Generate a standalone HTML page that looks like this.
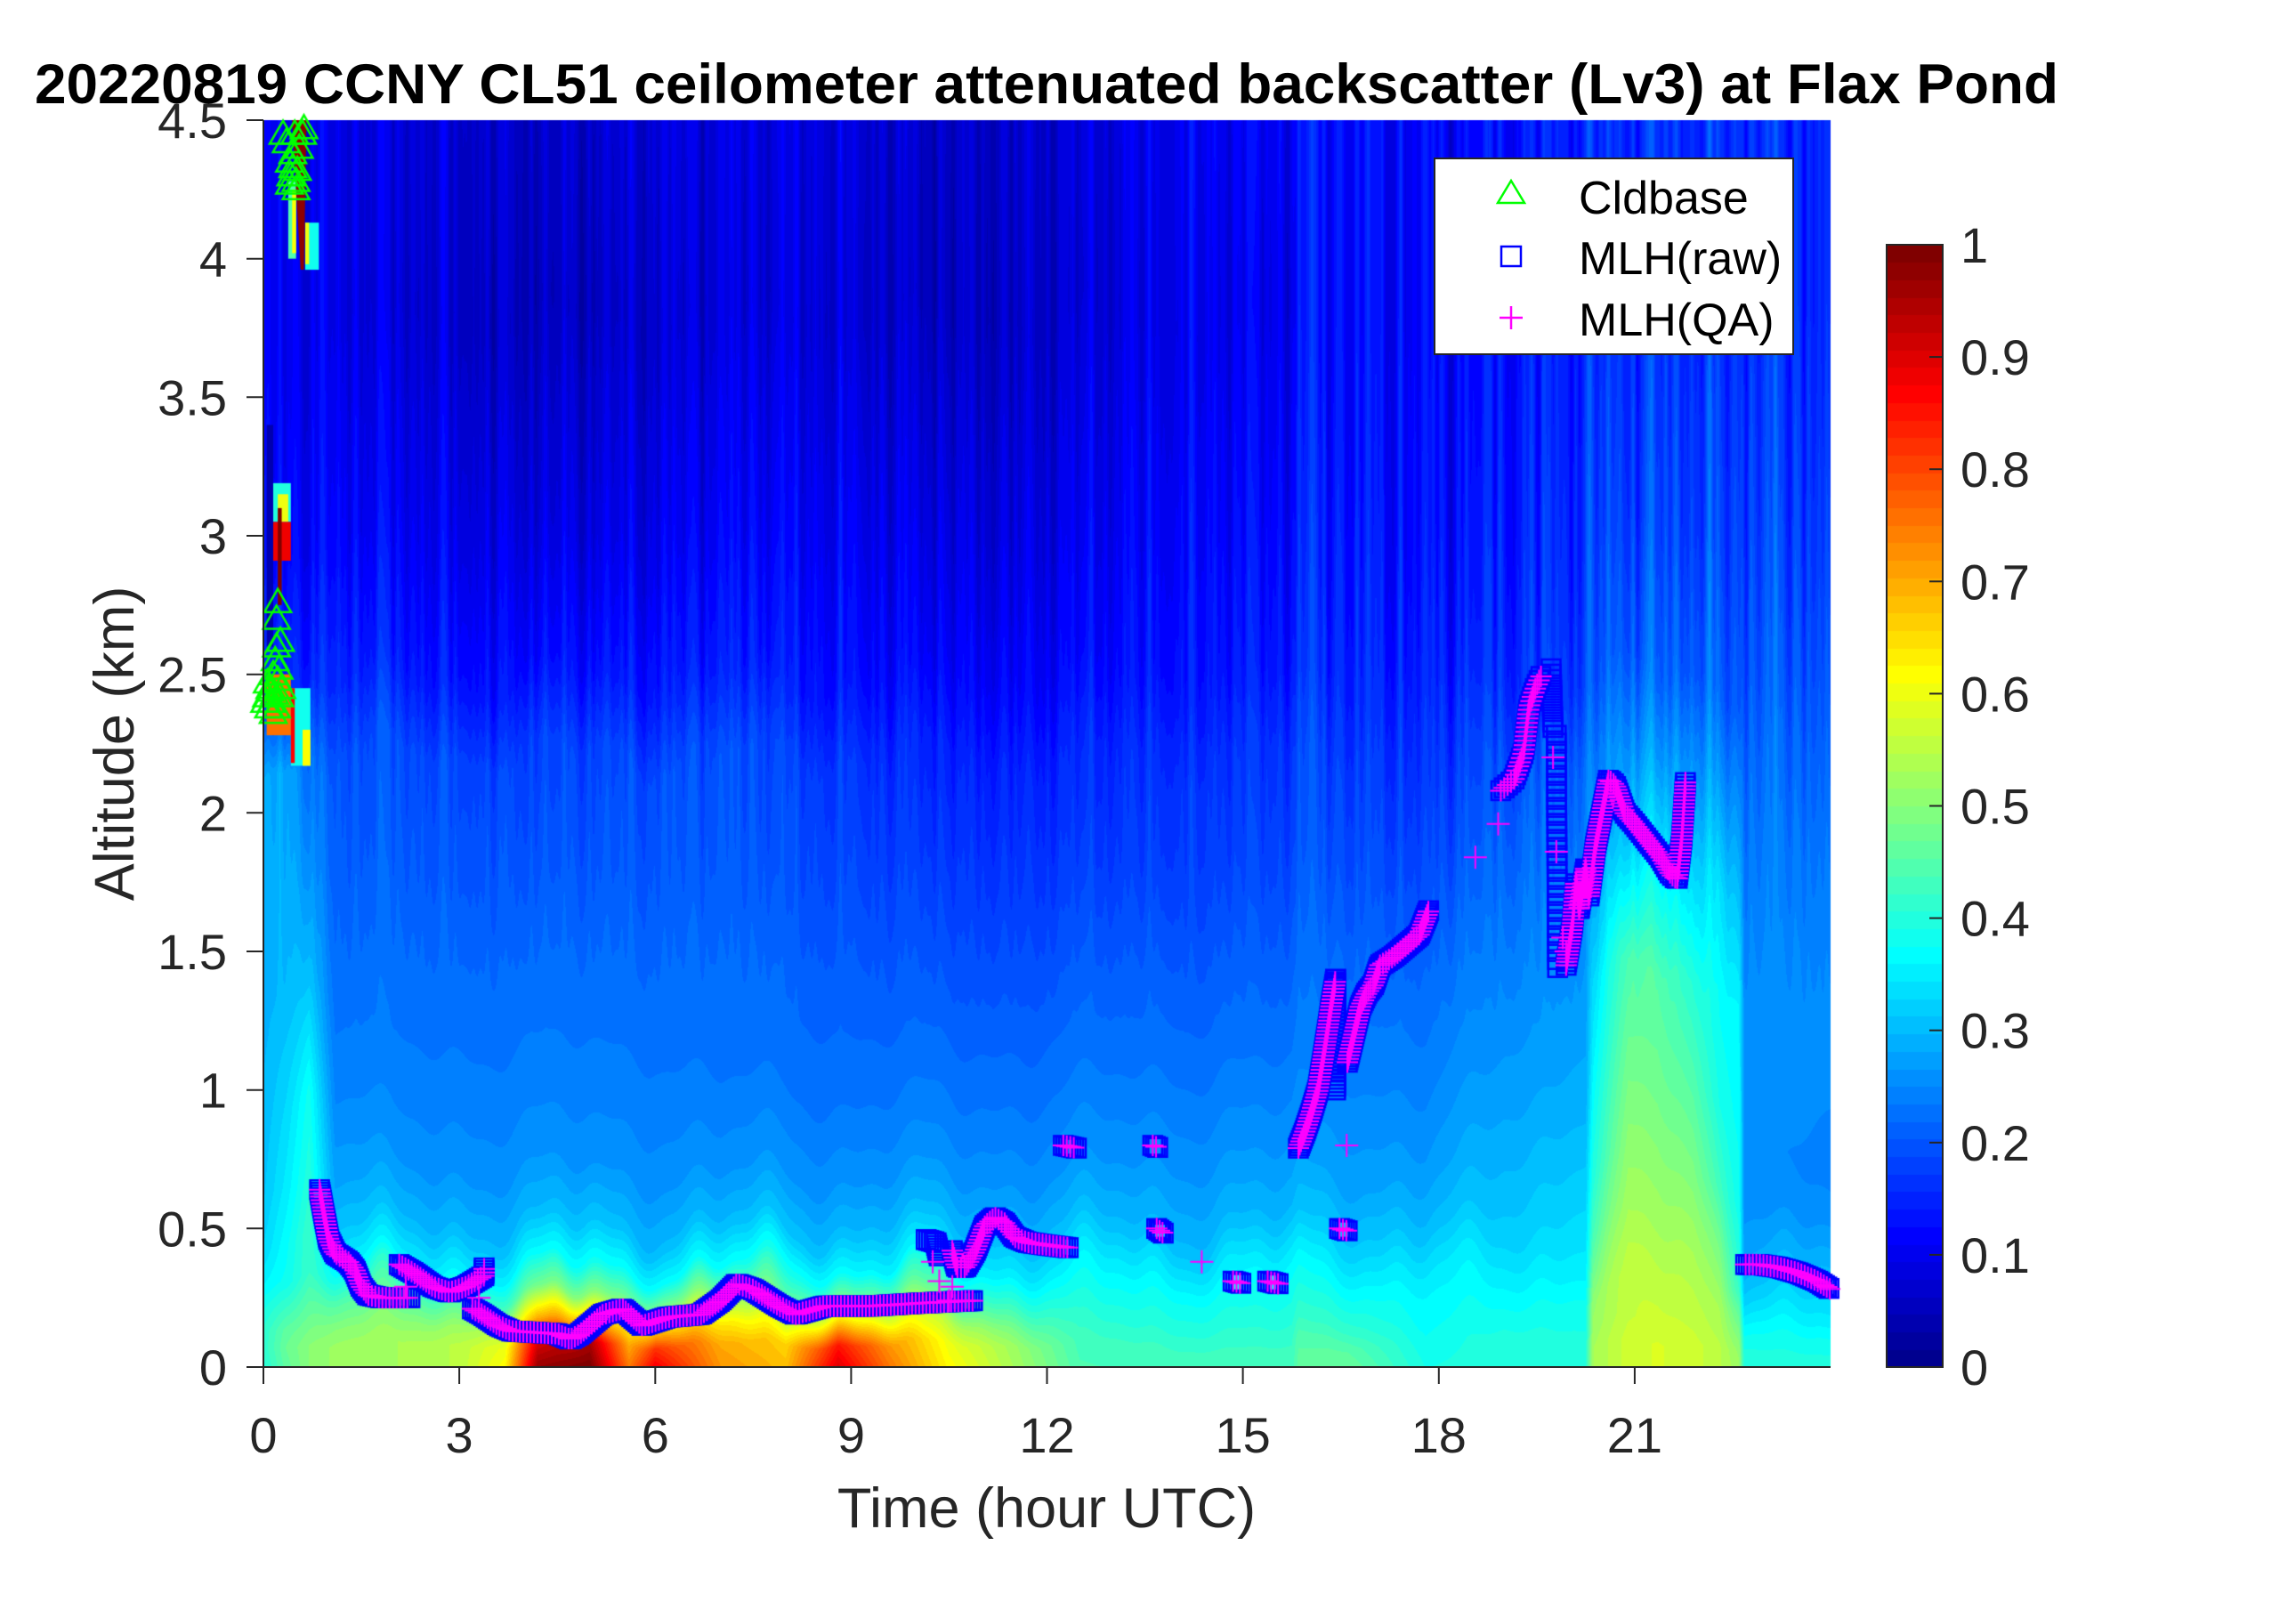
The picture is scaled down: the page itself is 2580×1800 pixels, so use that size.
<!DOCTYPE html>
<html><head><meta charset="utf-8">
<style>
html,body{margin:0;padding:0;background:#fff;}
#wrap{position:relative;width:2580px;height:1800px;overflow:hidden;background:#fff;}
canvas,svg{position:absolute;left:0;top:0;}
</style></head><body>
<div id="wrap">
<canvas id="c" width="2580" height="1800"></canvas>
<svg width="2580" height="1800" viewBox="0 0 2580 1800" xmlns="http://www.w3.org/2000/svg" font-family="'Liberation Sans', Arial, sans-serif">
  <text x="1176" y="116" font-size="63" font-weight="bold" text-anchor="middle" textLength="2274" lengthAdjust="spacingAndGlyphs" fill="#000">20220819 CCNY CL51 ceilometer attenuated backscatter (Lv3) at Flax Pond</text>
  <g stroke="#262626" stroke-width="2" fill="none">
    <line x1="296" y1="135" x2="296" y2="1537"/>
    <line x1="295" y1="1536" x2="2057" y2="1536"/>
    <line x1="277" y1="1536" x2="296" y2="1536"/>
    <line x1="277" y1="1380.3" x2="296" y2="1380.3"/>
    <line x1="277" y1="1224.7" x2="296" y2="1224.7"/>
    <line x1="277" y1="1069" x2="296" y2="1069"/>
    <line x1="277" y1="913.3" x2="296" y2="913.3"/>
    <line x1="277" y1="757.7" x2="296" y2="757.7"/>
    <line x1="277" y1="602" x2="296" y2="602"/>
    <line x1="277" y1="446.3" x2="296" y2="446.3"/>
    <line x1="277" y1="290.7" x2="296" y2="290.7"/>
    <line x1="277" y1="135" x2="296" y2="135"/>
    <line x1="296" y1="1536" x2="296" y2="1555"/>
    <line x1="516.1" y1="1536" x2="516.1" y2="1555"/>
    <line x1="736.3" y1="1536" x2="736.3" y2="1555"/>
    <line x1="956.4" y1="1536" x2="956.4" y2="1555"/>
    <line x1="1176.5" y1="1536" x2="1176.5" y2="1555"/>
    <line x1="1396.6" y1="1536" x2="1396.6" y2="1555"/>
    <line x1="1616.8" y1="1536" x2="1616.8" y2="1555"/>
    <line x1="1836.9" y1="1536" x2="1836.9" y2="1555"/>
  </g>
  <g font-size="56" fill="#262626" text-anchor="end">
    <text x="255" y="1556">0</text>
    <text x="255" y="1400.3">0.5</text>
    <text x="255" y="1244.7">1</text>
    <text x="255" y="1089">1.5</text>
    <text x="255" y="933.3">2</text>
    <text x="255" y="777.7">2.5</text>
    <text x="255" y="622">3</text>
    <text x="255" y="466.3">3.5</text>
    <text x="255" y="310.7">4</text>
    <text x="255" y="155">4.5</text>
  </g>
  <g font-size="56" fill="#262626" text-anchor="middle">
    <text x="296" y="1632">0</text>
    <text x="516.1" y="1632">3</text>
    <text x="736.3" y="1632">6</text>
    <text x="956.4" y="1632">9</text>
    <text x="1176.5" y="1632">12</text>
    <text x="1396.6" y="1632">15</text>
    <text x="1616.8" y="1632">18</text>
    <text x="1836.9" y="1632">21</text>
  </g>
  <text x="1176" y="1716" font-size="63" fill="#262626" text-anchor="middle">Time (hour UTC)</text>
  <text transform="translate(150,835.5) rotate(-90)" font-size="63" fill="#262626" text-anchor="middle">Altitude (km)</text>

  <!-- legend -->
  <rect x="1612" y="178" width="403" height="220" fill="#fff" stroke="#262626" stroke-width="2"/>
  <polygon points="1698,203 1683,228 1713,228" fill="none" stroke="#00ff00" stroke-width="2.5"/>
  <rect x="1687" y="277" width="22" height="22" fill="none" stroke="#0000ff" stroke-width="2.5"/>
  <g stroke="#ff00ff" stroke-width="2.5"><line x1="1685" y1="357" x2="1711" y2="357"/><line x1="1698" y1="344" x2="1698" y2="370"/></g>
  <g font-size="52" fill="#000">
    <text x="1774" y="240">Cldbase</text>
    <text x="1774" y="308">MLH(raw)</text>
    <text x="1774" y="377">MLH(QA)</text>
  </g>

  <!-- colorbar frame and ticks -->
  <rect x="2120" y="275" width="63" height="1261" fill="none" stroke="#262626" stroke-width="2"/>
  <g stroke="#262626" stroke-width="2">
    <line x1="2168" y1="1409.9" x2="2183" y2="1409.9"/>
    <line x1="2168" y1="1283.8" x2="2183" y2="1283.8"/>
    <line x1="2168" y1="1157.7" x2="2183" y2="1157.7"/>
    <line x1="2168" y1="1031.6" x2="2183" y2="1031.6"/>
    <line x1="2168" y1="905.5" x2="2183" y2="905.5"/>
    <line x1="2168" y1="779.4" x2="2183" y2="779.4"/>
    <line x1="2168" y1="653.3" x2="2183" y2="653.3"/>
    <line x1="2168" y1="527.2" x2="2183" y2="527.2"/>
    <line x1="2168" y1="401.1" x2="2183" y2="401.1"/>
  </g>
  <g font-size="56" fill="#262626">
    <text x="2203" y="1556">0</text>
    <text x="2203" y="1429.9">0.1</text>
    <text x="2203" y="1303.8">0.2</text>
    <text x="2203" y="1177.7">0.3</text>
    <text x="2203" y="1051.6">0.4</text>
    <text x="2203" y="925.5">0.5</text>
    <text x="2203" y="799.4">0.6</text>
    <text x="2203" y="673.3">0.7</text>
    <text x="2203" y="547.2">0.8</text>
    <text x="2203" y="421.1">0.9</text>
    <text x="2203" y="295">1</text>
  </g>
</svg>
</div>
<script>
(function(){
const cv=document.getElementById('c'),ctx=cv.getContext('2d');
ctx.fillStyle='#fff';ctx.fillRect(0,0,2580,1800);
const AX={x:296,y:135,w:1761,h:1401};
const tx=t=>AX.x+t/24*AX.w, zy=z=>AX.y+AX.h-z/4.5*AX.h;
const cl=a=>Math.max(0,Math.min(1,a));
const JET=[];
for(let i=1;i<=64;i++){const x=i/64;JET.push([cl(1.5-Math.abs(4*x-3)),cl(1.5-Math.abs(4*x-2)),cl(1.5-Math.abs(4*x-1))].map(a=>Math.round(a*255)));}
const idx=v=>{let i=Math.floor(v*64);if(i<0)i=0;if(i>63)i=63;return i;};
const jcol=v=>{const c=JET[idx(v)];return 'rgb('+c[0]+','+c[1]+','+c[2]+')';};
const ZS=[0,0.08,0.15,0.25,0.35,0.5,0.7,1.0,1.4,1.8,2.2,2.5,3.0,3.8,4.5];
const N=[
[0.0,[0.40,0.41,0.41,0.39,0.36,0.33,0.31,0.30,0.29,0.28,0.27,0.15,0.11,0.09,0.09]],
[0.35,[0.46,0.47,0.46,0.42,0.38,0.37,0.35,0.33,0.30,0.285,0.275,0.15,0.11,0.09,0.09]],
[0.7,[0.50,0.50,0.48,0.45,0.42,0.42,0.40,0.38,0.31,0.26,0.22,0.14,0.10,0.085,0.085]],
[1.1,[0.52,0.52,0.50,0.45,0.38,0.32,0.28,0.25,0.225,0.205,0.19,0.145,0.105,0.08,0.08]],
[2.0,[0.53,0.53,0.50,0.44,0.36,0.30,0.265,0.24,0.225,0.205,0.19,0.14,0.105,0.075,0.08]],
[3.0,[0.55,0.55,0.52,0.44,0.36,0.30,0.265,0.24,0.225,0.205,0.19,0.14,0.105,0.075,0.08]],
[3.7,[0.62,0.60,0.55,0.43,0.36,0.30,0.265,0.24,0.225,0.205,0.19,0.14,0.105,0.07,0.08]],
[4.2,[0.97,0.90,0.70,0.48,0.37,0.30,0.265,0.24,0.225,0.205,0.19,0.14,0.10,0.07,0.08]],
[5.0,[1.00,0.95,0.72,0.50,0.38,0.31,0.265,0.24,0.225,0.205,0.19,0.14,0.10,0.07,0.08]],
[5.6,[0.75,0.70,0.62,0.47,0.37,0.30,0.265,0.24,0.225,0.205,0.19,0.14,0.10,0.07,0.08]],
[6.0,[0.88,0.82,0.68,0.49,0.37,0.30,0.265,0.24,0.225,0.205,0.19,0.14,0.10,0.07,0.08]],
[7.0,[0.72,0.70,0.64,0.50,0.37,0.30,0.26,0.235,0.22,0.20,0.185,0.135,0.10,0.07,0.075]],
[8.0,[0.68,0.66,0.58,0.46,0.39,0.31,0.265,0.235,0.215,0.19,0.175,0.13,0.10,0.07,0.075]],
[8.8,[0.90,0.85,0.70,0.49,0.37,0.30,0.26,0.23,0.21,0.185,0.165,0.125,0.10,0.07,0.075]],
[9.6,[0.75,0.72,0.62,0.47,0.36,0.30,0.26,0.23,0.205,0.18,0.16,0.125,0.10,0.07,0.075]],
[10.5,[0.62,0.60,0.55,0.44,0.36,0.30,0.26,0.23,0.20,0.175,0.155,0.125,0.10,0.07,0.075]],
[11.5,[0.53,0.52,0.48,0.41,0.35,0.30,0.26,0.23,0.20,0.175,0.155,0.125,0.10,0.075,0.08]],
[12.5,[0.44,0.43,0.41,0.38,0.35,0.30,0.265,0.235,0.205,0.175,0.155,0.125,0.105,0.08,0.085]],
[14.0,[0.43,0.42,0.40,0.38,0.35,0.30,0.27,0.24,0.21,0.175,0.155,0.125,0.105,0.085,0.09]],
[15.75,[0.43,0.42,0.40,0.38,0.35,0.30,0.27,0.24,0.21,0.18,0.16,0.13,0.11,0.09,0.10]],
[15.85,[0.46,0.45,0.42,0.39,0.36,0.31,0.28,0.25,0.225,0.20,0.185,0.16,0.145,0.13,0.13]],
[16.6,[0.47,0.45,0.42,0.39,0.36,0.32,0.28,0.255,0.23,0.20,0.18,0.16,0.145,0.13,0.13]],
[17.8,[0.39,0.38,0.37,0.36,0.34,0.30,0.27,0.245,0.22,0.19,0.17,0.155,0.14,0.13,0.13]],
[19.0,[0.40,0.40,0.39,0.37,0.35,0.32,0.30,0.275,0.25,0.225,0.20,0.17,0.155,0.14,0.14]],
[20.25,[0.40,0.40,0.39,0.38,0.36,0.34,0.32,0.29,0.27,0.245,0.22,0.18,0.16,0.15,0.15]],
[20.36,[0.53,0.53,0.52,0.51,0.48,0.44,0.40,0.37,0.33,0.27,0.23,0.19,0.17,0.15,0.15]],
[20.9,[0.57,0.57,0.56,0.56,0.55,0.53,0.51,0.48,0.44,0.32,0.25,0.20,0.17,0.15,0.15]],
[21.35,[0.58,0.58,0.57,0.56,0.55,0.53,0.51,0.48,0.45,0.36,0.26,0.20,0.17,0.15,0.15]],
[21.9,[0.57,0.57,0.56,0.55,0.54,0.52,0.49,0.45,0.40,0.32,0.25,0.20,0.17,0.15,0.15]],
[22.3,[0.55,0.55,0.54,0.53,0.51,0.48,0.43,0.39,0.37,0.33,0.25,0.20,0.17,0.15,0.15]],
[22.6,[0.52,0.51,0.49,0.46,0.42,0.40,0.38,0.37,0.36,0.30,0.24,0.19,0.17,0.15,0.15]],
[22.68,[0.40,0.39,0.37,0.33,0.30,0.27,0.26,0.265,0.255,0.24,0.22,0.20,0.18,0.16,0.16]],
[24.0,[0.40,0.38,0.35,0.32,0.29,0.26,0.24,0.255,0.25,0.235,0.215,0.20,0.18,0.16,0.16]]
];
const SF=[[7.1,0.8,1],[13.3,2.1,1],[19.7,4.0,1],[27.9,0.3,1],[37.3,5.2,0.8],[49.1,1.7,0.6],[63.7,3.3,0.4]];
function streak(t){let s=0;for(const [f,p,a] of SF)s+=a*Math.sin(f*t+p);return s/5.8;}
function ripple(t){return 0.06*Math.sin(2.3*t+0.4)+0.04*Math.sin(5.3*t+1.3)+0.015*Math.sin(11.7*t+2.2);}
const img=ctx.createImageData(AX.w,AX.h),d=img.data;
for(let px=0;px<AX.w;px++){
  const t=(px+0.5)/AX.w*24;
  let k=0;while(k<N.length-2&&N[k+1][0]<t)k++;
  const t0=N[k][0],p0=N[k][1],t1=N[k+1][0],p1=N[k+1][1];
  const f=cl((t-t0)/(t1-t0));
  const P=p0.map((a,i)=>a+(p1[i]-a)*f);
  const st=streak(t)*(t>15.8?0.08:0.06)+0.015*Math.sin(0.9*t+1.0);
  const rp=ripple(t);
  for(let py=0;py<AX.h;py++){
    const z=(AX.h-py-0.5)/AX.h*4.5;
    const ze=z+rp*Math.min(1,z/0.4);
    let j=0;while(j<ZS.length-2&&ZS[j+1]<ze)j++;
    const g=cl((ze-ZS[j])/(ZS[j+1]-ZS[j]));
    let v=P[j]+(P[j+1]-P[j])*g;
    const w=z<1.2?0:(z>2.8?1:(z-1.2)/1.6);
    v+=st*w;
    const c=JET[idx(v)];
    const o=(py*AX.w+px)*4;d[o]=c[0];d[o+1]=c[1];d[o+2]=c[2];d[o+3]=255;
  }
}
ctx.putImageData(img,AX.x,AX.y);
// cloud patches
function patch(t0,t1,z0,z1,v){ctx.fillStyle=(typeof v==='string')?v:jcol(v);ctx.fillRect(tx(t0),zy(z1),tx(t1)-tx(t0),zy(z0)-zy(z1));}
// top cloud
patch(0.38,0.50,4.0,4.28,0.45);
patch(0.44,0.50,4.02,4.25,0.62);
patch(0.64,0.85,3.96,4.13,0.38);
patch(0.64,0.70,3.98,4.13,0.60);
ctx.fillStyle=jcol(0.97);
ctx.beginPath();ctx.moveTo(tx(0.44),zy(4.5));ctx.lineTo(tx(0.66),zy(4.5));ctx.lineTo(tx(0.62),zy(3.96));ctx.lineTo(tx(0.57),zy(3.96));ctx.closePath();ctx.fill();
// lower cloud at ~3 km
patch(0.15,0.42,3.05,3.19,0.40);
patch(0.22,0.38,3.05,3.15,0.60);
patch(0.15,0.42,2.91,3.05,0.88);
patch(0.22,0.28,2.75,3.10,0.99);
patch(0.05,0.15,2.6,3.4,0.04);
// cloud at ~2.2-2.5 km
patch(0.42,0.72,2.17,2.45,0.38);
patch(0.60,0.72,2.17,2.30,0.62);
patch(0.42,0.48,2.18,2.45,0.86);
patch(0.05,0.42,2.28,2.50,0.75);
// triangles
function tri(t,z){const x=tx(t),y=zy(z);ctx.beginPath();ctx.moveTo(x,y-15);ctx.lineTo(x-15,y+11);ctx.lineTo(x+15,y+11);ctx.closePath();ctx.stroke();}
ctx.strokeStyle='#00ff00';ctx.lineWidth=2.5;
[[0.02,2.40],[0.05,2.42],[0.08,2.38],[0.1,2.45],[0.12,2.40],[0.15,2.5],[0.18,2.55],[0.2,2.6],[0.22,2.48],[0.25,2.42],[0.15,2.36],[0.2,2.38],[0.24,2.52],[0.26,2.62],[0.2,2.70],[0.22,2.76],[0.1,2.44],[0.28,2.45],[0.06,2.47],[0.17,2.43]].forEach(p=>tri(p[0],p[1]));
[[0.3,4.45],[0.35,4.42],[0.4,4.35],[0.42,4.3],[0.45,4.33],[0.5,4.28],[0.55,4.4],[0.6,4.45],[0.62,4.47],[0.45,4.38],[0.5,4.25],[0.48,4.45],[0.52,4.32],[0.4,4.27]].forEach(p=>tri(p[0],p[1]));
// MLH trails
function sample(pts,step){
  const P=pts.map(p=>[tx(p[0]),zy(p[1])]);const S=[P[0]];let carry=0;
  for(let i=1;i<P.length;i++){const x0=P[i-1][0],y0=P[i-1][1],x1=P[i][0],y1=P[i][1];const L=Math.hypot(x1-x0,y1-y0);
    let dd=step-carry;while(dd<=L){S.push([x0+(x1-x0)*dd/L,y0+(y1-y0)*dd/L]);dd+=step;}carry=L-(dd-step);}
  return S;
}
const segs=[
 {p:[[0.86,0.64],[0.92,0.56],[1.0,0.46],[1.1,0.41],[1.3,0.38],[1.4,0.35],[1.5,0.29],[1.6,0.26],[1.8,0.25],[2.25,0.25]],s:3,r:1,q:1},
 {p:[[2.08,0.37],[2.3,0.34],[2.6,0.29],[2.85,0.27],[3.1,0.29],[3.38,0.33],[3.38,0.36]],s:3,r:1,q:1},
 {p:[[3.2,0.21],[3.35,0.19],[3.6,0.15],[3.8,0.13],[4.5,0.12],[4.7,0.10],[4.85,0.12],[5.2,0.19],[5.5,0.21],[5.8,0.15],[6.2,0.18],[6.7,0.19],[7.0,0.24],[7.25,0.30],[7.5,0.28],[7.9,0.22],[8.15,0.19],[8.6,0.22],[9.3,0.22],[10.0,0.23],[10.9,0.24]],s:3,r:1,q:1},
 {p:[[10.15,0.46],[10.3,0.45],[10.35,0.40]],s:3,r:1,q:0},
 {p:[[10.55,0.42],[10.62,0.36],[10.75,0.36],[10.9,0.42],[11.05,0.51],[11.2,0.54],[11.35,0.52],[11.5,0.47],[11.7,0.45],[12.0,0.44],[12.35,0.43]],s:3,r:1,q:1},
 {p:[[12.25,0.80],[12.45,0.79]],s:3,r:1,q:1},
 {p:[[13.62,0.80],[13.72,0.79]],s:3,r:1,q:1},
 {p:[[13.68,0.50],[13.8,0.48]],s:3,r:1,q:1},
 {p:[[14.85,0.31],[15.0,0.30]],s:3,r:1,q:1},
 {p:[[15.38,0.31],[15.55,0.30]],s:3,r:1,q:1},
 {p:[[16.48,0.50],[16.62,0.49]],s:3,r:1,q:1},
 {p:[[15.85,0.79],[15.95,0.85],[16.05,0.92],[16.15,1.0],[16.22,1.1],[16.3,1.22],[16.35,1.3],[16.42,1.40]],s:3,r:1,q:1},
 {p:[[16.42,1.0],[16.42,1.4]],s:4,r:1,q:0},
 {p:[[16.6,1.1],[16.7,1.2],[16.8,1.3],[16.9,1.35],[17.0,1.38],[17.1,1.45],[17.3,1.48],[17.5,1.52],[17.7,1.56],[17.85,1.65]],s:3,r:1,q:1},
 {p:[[18.95,2.08],[19.15,2.12],[19.3,2.22],[19.38,2.38],[19.48,2.45],[19.58,2.5]],s:5,r:1,q:1},
 {p:[[19.72,2.52],[19.75,2.30]],s:6,r:1,q:0},
 {p:[[19.8,2.28],[19.82,1.42]],s:9,r:1,q:0},
 {p:[[19.95,1.45],[20.05,1.6],[20.1,1.75],[20.15,1.65],[20.25,1.8],[20.3,1.7],[20.4,1.88],[20.5,2.0],[20.6,2.12],[20.7,2.1],[20.85,2.0],[21.0,1.96],[21.2,1.9],[21.4,1.84],[21.55,1.78],[21.65,1.76],[21.72,1.9],[21.78,2.12]],s:4,r:1,q:1},
 {p:[[22.7,0.37],[22.9,0.37],[23.2,0.36],[23.5,0.34],[23.8,0.31],[24.0,0.28]],s:3,r:1,q:1}
];
const isoPlus=[[2.18,0.29],[10.25,0.38],[10.35,0.31],[10.55,0.29],[10.5,0.24],[14.37,0.38],[16.59,0.80],[18.56,1.84],[18.91,1.96],[19.75,2.2],[19.8,1.86],[19.9,1.55],[19.95,1.5],[3.3,0.25]];
ctx.strokeStyle='#0000ff';ctx.lineWidth=2.5;
segs.forEach(sg=>{if(!sg.r)return;sample(sg.p,sg.s).forEach(([x,y])=>ctx.strokeRect(x-10.5,y-10.5,21,21));});
ctx.strokeStyle='#ff00ff';ctx.lineWidth=2;
function plus(x,y,h){ctx.beginPath();ctx.moveTo(x-h,y);ctx.lineTo(x+h,y);ctx.moveTo(x,y-h);ctx.lineTo(x,y+h);ctx.stroke();}
segs.forEach(sg=>{if(!sg.q)return;sample(sg.p,Math.max(4,sg.s)).forEach(([x,y])=>plus(x,y,12));});
isoPlus.forEach(p=>plus(tx(p[0]),zy(p[1]),13));
// colorbar
const cx0=2120,cw=63,cy1=1536,ch=1261;
for(let i=0;i<64;i++){const c=JET[i];ctx.fillStyle='rgb('+c[0]+','+c[1]+','+c[2]+')';
  const ya=cy1-(i+1)*ch/64,yb=cy1-i*ch/64;ctx.fillRect(cx0,Math.floor(ya),cw,Math.ceil(yb)-Math.floor(ya));}
})();
</script>
</body></html>
